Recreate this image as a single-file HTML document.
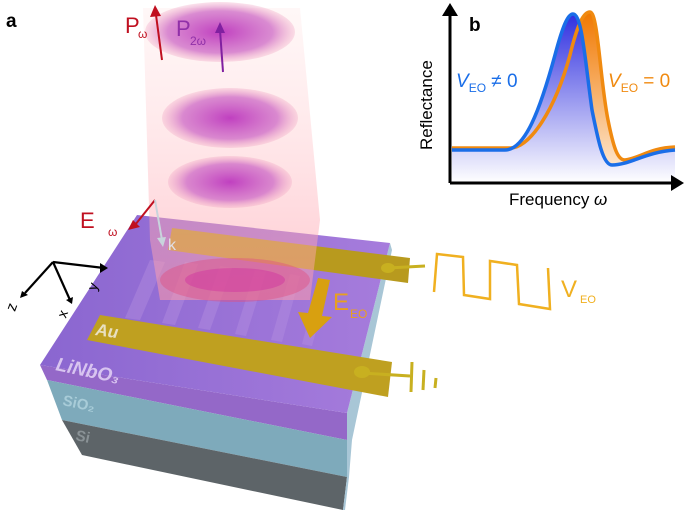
<!DOCTYPE html>
<html><head><meta charset="utf-8"><style>
html,body{margin:0;padding:0;background:#fff;width:685px;height:513px;overflow:hidden}
svg{display:block;font-family:"Liberation Sans",sans-serif}
</style></head><body>
<svg width="685" height="513" viewBox="0 0 685 513" xmlns="http://www.w3.org/2000/svg">
<defs>
<linearGradient id="beam" x1="0" y1="0" x2="0" y2="1">
<stop offset="0" stop-color="#ffd8d8" stop-opacity="0.2"/>
<stop offset="1" stop-color="#ff9aa8" stop-opacity="0.55"/>
</linearGradient>
<radialGradient id="blob" cx="0.5" cy="0.5" r="0.5">
<stop offset="0" stop-color="#c040c0"/>
<stop offset="0.7" stop-color="#d070c8" stop-opacity="0.8"/>
<stop offset="1" stop-color="#f0a0c0" stop-opacity="0.3"/>
</radialGradient>
<linearGradient id="blueFill" x1="0" y1="0" x2="0" y2="1">
<stop offset="0" stop-color="#3030e0"/>
<stop offset="1" stop-color="#ffffff"/>
</linearGradient>
<linearGradient id="orFill" x1="0" y1="0" x2="0" y2="1">
<stop offset="0" stop-color="#f07800"/>
<stop offset="1" stop-color="#fff0e0"/>
</linearGradient>
<linearGradient id="top" x1="0" y1="0" x2="1" y2="0">
<stop offset="0" stop-color="#8a66d0"/>
<stop offset="1" stop-color="#a67cdc"/>
</linearGradient>
</defs>

<text x="6" y="27" font-size="19" font-weight="bold">a</text>

<polygon points="40,365 347,413 347,440 47,380" fill="#9468c8"/>
<polygon points="47,380 347,440 347,477 62,420" fill="#7eaabb"/>
<polygon points="62,420 347,477 343,510 82,455" fill="#5d6468"/>
<polygon points="347,413 390,243 392,250 352,440 349,477 345,510 343,510 347,477" fill="#a8c6d6"/>
<polygon points="137,215 390,243 347,413 40,365" fill="url(#top)"/>
<g fill="#b48ee0" opacity="0.45">
<polygon points="150,260 165,262 140,320 125,318"/>
<polygon points="185,262 198,264 175,325 162,323"/>
<polygon points="220,266 232,268 210,330 198,328"/>
<polygon points="255,270 266,272 246,336 235,334"/>
<polygon points="290,274 300,276 282,342 271,340"/>
<polygon points="320,278 330,280 312,346 302,344"/>
</g>
<polygon points="172,228 410,258 408,283 168,250" fill="#b89a1e"/>
<ellipse cx="388" cy="268" rx="7" ry="5" fill="#c8b020"/>
<line x1="388" y1="268" x2="425" y2="266" stroke="#c8b020" stroke-width="3"/>
<polygon points="100,315 392,362 388,397 87,340" fill="#bfa020"/>
<text x="95" y="335" font-size="17" font-weight="bold" font-style="italic" fill="#e8e0c0" transform="rotate(8 95 335)">Au</text>
<ellipse cx="362" cy="372" rx="8" ry="6" fill="#c8b020"/>
<line x1="362" y1="373" x2="410" y2="376" stroke="#c8b020" stroke-width="3"/>
<line x1="412" y1="362" x2="411" y2="392" stroke="#c8b020" stroke-width="3"/>
<line x1="424" y1="370" x2="423" y2="390" stroke="#c8b020" stroke-width="3"/>
<line x1="436" y1="378" x2="435" y2="388" stroke="#c8b020" stroke-width="3"/>
<text x="55" y="370" font-size="19" font-weight="bold" font-style="italic" fill="#d8c4f0" transform="rotate(12 55 370)">LiNbO₃</text>
<text x="62" y="405" font-size="15" font-weight="bold" fill="#a8ccd8" transform="rotate(12 62 405)">SiO₂</text>
<text x="75" y="440" font-size="15" font-weight="bold" fill="#8a9296" transform="rotate(12 75 440)">Si</text>

<polygon points="143,8 300,8 320,220 310,300 160,300 150,240" fill="url(#beam)"/>
<ellipse cx="235" cy="280" rx="75" ry="22" fill="#e05080" opacity="0.45"/>
<ellipse cx="235" cy="280" rx="50" ry="12" fill="#d030a0" opacity="0.45"/>
<ellipse cx="220" cy="32" rx="75" ry="30" fill="url(#blob)"/>
<ellipse cx="230" cy="118" rx="68" ry="30" fill="url(#blob)"/>
<ellipse cx="230" cy="182" rx="62" ry="26" fill="url(#blob)"/>
<line x1="162" y1="60" x2="156" y2="15" stroke="#c01020" stroke-width="2"/>
<polygon points="150,17 155,5 161,16" fill="#c01020"/>
<text x="125" y="33" font-size="22" fill="#c01020">P</text><text x="138" y="38" font-size="12" fill="#c01020">ω</text>
<line x1="223" y1="72" x2="220" y2="30" stroke="#8020a0" stroke-width="2"/>
<polygon points="215,33 220,22 225,33" fill="#8020a0"/>
<text x="176" y="36" font-size="22" fill="#9030a8">P</text><text x="190" y="45" font-size="12" fill="#9030a8">2ω</text>
<line x1="155" y1="200" x2="135" y2="225" stroke="#c01020" stroke-width="2"/>
<polygon points="128,230 133,220 140,227" fill="#c01020"/>
<text x="80" y="228" font-size="22" fill="#c01020">E</text><text x="108" y="236" font-size="12" fill="#c01020">ω</text>
<line x1="155" y1="200" x2="162" y2="240" stroke="#c8d4dc" stroke-width="2"/>
<polygon points="157,238 163,247 166,237" fill="#c8d4dc"/>
<text x="168" y="250" font-size="16" fill="#e0e0e8">k</text>
<polygon points="318,278 330,280 322,316 332,317 310,338 298,312 308,313" fill="#d8a010"/>
<text x="333" y="310" font-size="24" fill="#e8a020">E</text><text x="350" y="318" font-size="12" fill="#e8a020">EO</text>
<g stroke="#000" stroke-width="2.2" fill="none">
<line x1="53" y1="262" x2="104" y2="268"/>
<line x1="53" y1="262" x2="25" y2="293"/>
<line x1="53" y1="262" x2="70" y2="300"/>
</g>
<polygon points="100,263 108,268 100,273" fill="#000"/>
<polygon points="22,291 20,298 28,295" fill="#000"/>
<polygon points="66,300 72,304 73,297" fill="#000"/>
<text x="5" y="312" font-size="15" transform="rotate(-70 10 305)">z</text>
<text x="57" y="318" font-size="14" transform="rotate(-70 62 312)">x</text>
<text x="88" y="290" font-size="14" transform="rotate(-70 93 285)">y</text>

<polyline points="434,292 437,254 463,257 464,295 490,299 490,261 517,265 519,304 550,309 548,268" fill="none" stroke="#f0b020" stroke-width="2.5"/>
<text x="561" y="297" font-size="24" fill="#f0b020">V</text><text x="580" y="303" font-size="11" fill="#f0b020">EO</text>

<!-- panel b -->
<path d="M452,148 L510,148 C530,148 555,110 570,55 C578,22 584,12 590,12 C598,12 600,80 608,120 C614,150 618,160 625,160 C640,158 650,148 675,147 L675,183 L452,183 Z" fill="url(#orFill)"/>
<path d="M452,150 L505,150 C525,150 540,110 555,55 C563,25 568,14 573,14 C582,14 585,60 592,110 C598,140 603,165 612,165 C630,165 645,152 675,150 L675,183 L452,183 Z" fill="url(#blueFill)"/>
<path d="M452,148 L510,148 C530,148 555,110 570,55 C578,22 584,12 590,12 C598,12 600,80 608,120 C614,150 618,160 625,160 C640,158 650,148 675,147" fill="none" stroke="#f08a10" stroke-width="3.5"/>
<path d="M452,150 L505,150 C525,150 540,110 555,55 C563,25 568,14 573,14 C582,14 585,60 592,110 C598,140 603,165 612,165 C630,165 645,152 675,150" fill="none" stroke="#1a6ee8" stroke-width="3.5"/>
<line x1="450" y1="183" x2="450" y2="14" stroke="#000" stroke-width="3"/>
<polygon points="442,16 450,3 458,16" fill="#000"/>
<line x1="450" y1="183" x2="673" y2="183" stroke="#000" stroke-width="3"/>
<polygon points="671,175 684,183 671,191" fill="#000"/>
<text x="469" y="31" font-size="19" font-weight="bold">b</text>
<text x="0" y="0" font-size="17" transform="translate(432 150) rotate(-90)">Reflectance</text>
<text x="509" y="205" font-size="17">Frequency <tspan font-style="italic">ω</tspan></text>
<text x="456" y="87" font-size="19" fill="#1a6ee8"><tspan font-style="italic">V</tspan><tspan font-size="12" dy="5">EO</tspan><tspan dy="-5"> ≠ 0</tspan></text>
<text x="608" y="87" font-size="19" fill="#f08a10"><tspan font-style="italic">V</tspan><tspan font-size="12" dy="5">EO</tspan><tspan dy="-5"> = 0</tspan></text>
</svg>
</body></html>
